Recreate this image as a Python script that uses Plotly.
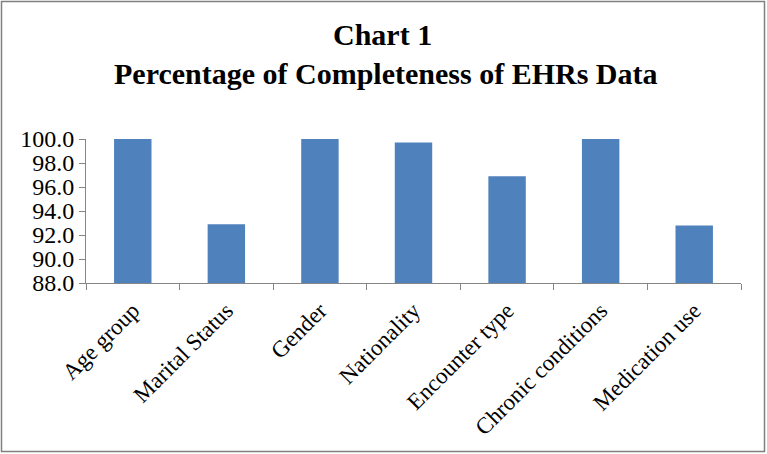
import plotly.graph_objects as go

categories = ["Age group", "Marital Status", "Gender", "Nationality",
              "Encounter type", "Chronic conditions", "Medication use"]
values = [100.0, 92.9, 100.0, 99.7, 96.9, 100.0, 92.8]
y_ticks = [88.0, 90.0, 92.0, 94.0, 96.0, 98.0, 100.0]
title_lines = ["Chart 1", "Percentage of Completeness of EHRs Data"]

W, H = 767, 454
ML, MR, MT, MB = 86, 26, 139, 171
PW, PH = W - ML - MR, H - MT - MB

def px_x(x):
    return (x - ML) / PW

def px_y(y):
    return (H - MB - y) / PH

font_family = "Liberation Serif, Times New Roman, serif"

fig = go.Figure(go.Bar(x=categories, y=values, marker_color="#4F81BD",
                       marker_line_width=0))

fig.update_layout(
    width=W, height=H,
    margin=dict(l=ML, r=MR, t=MT, b=MB, autoexpand=False),
    paper_bgcolor="white", plot_bgcolor="white",
    bargap=0.6,
    showlegend=False,
    font=dict(family=font_family, color="black"),
)
for text, xc, yc in zip(title_lines, [382, 386], [35, 73]):
    fig.add_annotation(text=f"<b>{text}</b>", xref="paper", yref="paper",
                       x=px_x(xc), y=px_y(yc), xanchor="center", yanchor="middle",
                       showarrow=False,
                       font=dict(family=font_family, size=30, color="black"))

fig.update_yaxes(range=[88, 100], tickvals=y_ticks,
                 ticktext=[f"{v:.1f}" for v in y_ticks],
                 showgrid=False, zeroline=False, automargin=False,
                 showline=True, linecolor="#868686", linewidth=1,
                 ticks="outside", ticklen=6, tickcolor="#868686",
                 tickfont=dict(size=24, family=font_family, color="black"))
fig.update_xaxes(tickangle=-45, showgrid=False, automargin=False,
                 showline=True, linecolor="#868686", linewidth=1,
                 ticks="outside", ticklen=6, tickcolor="#868686",
                 tickson="boundaries", ticklabelstandoff=4,
                 tickfont=dict(size=23, family=font_family, color="black"))
fig.add_shape(type="rect", xref="paper", yref="paper",
              x0=px_x(1.5), x1=px_x(W - 2.5), y0=px_y(H - 2.5), y1=px_y(1.5),
              line=dict(color="#808080", width=1.5), fillcolor="rgba(0,0,0,0)",
              layer="below")

fig.write_html("out.html", config={"displayModeBar": False},
               post_script="document.body.style.margin='0px';document.body.style.overflow='hidden';")
